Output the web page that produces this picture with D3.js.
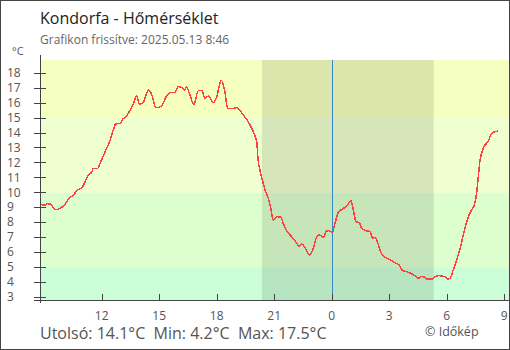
<!DOCTYPE html>
<html><head><meta charset="utf-8">
<script src="https://cdn.jsdelivr.net/npm/d3@7"></script>
<style>body{margin:0;background:#fff}svg{display:block;font-family:"Open Sans",sans-serif}</style>
</head><body><svg id="c" width="510" height="350"></svg>
<script>
// hours since 00:00 of 2025-05-12
const hours = [8.78,9.04,9.16,9.35,9.47,9.61,9.73,9.91,10.08,10.31,10.52,10.73,10.96,11.09,11.27,11.48,11.56,11.77,11.91,12.08,12.26,12.43,12.60,12.74,12.95,13.09,13.27,13.48,13.65,13.82,13.96,14.17,14.31,14.45,14.62,14.83,15.13,15.35,15.56,15.82,15.99,16.22,16.31,16.43,16.57,16.81,17.04,17.22,17.39,17.58,17.82,18.0,18.24,18.42,18.57,18.86,19.04,19.39,19.56,19.74,19.94,20.09,20.15,20.26,20.38,20.52,20.69,20.82,20.95,21.16,21.35,21.47,21.68,21.91,22.12,22.29,22.43,22.6,22.83,23.04,23.22,23.35,23.56,23.74,23.86,24.03,24.17,24.34,24.55,24.69,24.86,25.0,25.12,25.27,25.44,25.56,25.79,26.0,26.14,26.26,26.4,26.55,26.69,26.9,27.13,27.35,27.52,27.7,27.91,28.12,28.34,28.55,28.69,28.87,28.99,29.22,29.39,29.56,29.91,30.08,30.21,30.31,30.43,30.6,30.73,30.86,31.0,31.13,31.3,31.44,31.56,31.65,31.74,31.82,31.94,32.08,32.2,32.29,32.43,32.69];
const temps = [9.2,9.15,9.24,9.2,8.97,8.84,8.87,9.0,9.2,9.62,9.8,10.16,10.29,10.6,11.09,11.36,11.58,11.58,11.94,12.43,12.95,13.46,14.17,14.58,14.6,14.89,15.06,15.5,15.9,16.45,15.9,16.0,16.5,16.85,16.5,15.66,15.78,16.36,16.67,16.67,17.07,16.96,16.85,17.07,16.62,15.89,16.8,16.8,16.3,16.45,16.0,16.4,17.5,16.75,15.62,15.6,15.66,15.17,14.89,14.5,13.95,13.39,12.28,11.45,10.83,10.16,9.6,8.93,8.15,8.37,8.33,7.93,7.37,7.03,6.7,6.41,6.55,6.33,5.81,6.26,7.03,7.15,6.99,7.42,7.44,7.3,7.93,8.64,8.87,9.0,9.22,9.44,8.87,8.04,7.97,7.6,7.44,7.37,6.93,6.99,6.63,6.03,5.74,5.59,5.43,5.25,5.14,4.76,4.7,4.58,4.43,4.25,4.36,4.32,4.2,4.2,4.36,4.43,4.36,4.2,4.32,4.7,5.14,5.81,6.37,7.15,7.82,8.37,8.82,9.15,9.94,11.05,12.16,12.61,13.05,13.28,13.5,13.84,14.02,14.1];
const xTickHours = [12,15,18,21,24,27,30,33];
const xTickLabels = ["12","15","18","21","0","3","6","9"];
const yTicks = [3,4,5,6,7,8,9,10,11,12,13,14,15,16,17,18];
const bandEdges = [2.8,5,10,15,18.85];
const bandColors = ["#ccffd7","#ddffce","#f0ffd0","#f5ffc0"];
const nightStart = 20.36, nightEnd = 29.32, midnight = 24;
const title = "Kondorfa - Hőmérséklet";
const subtitle = "Grafikon frissítve: 2025.05.13 8:46";
const stats = "Utolsó: 14.1°C  Min: 4.2°C  Max: 17.5°C";
const credit = "© Időkép";

const svg = d3.select("#c");
const L = 40, R = 509, T = 60, B = 300;
const x = d3.scaleLinear().domain([8.78, 33.25]).range([L, R]);
const y = d3.scaleLinear().domain([2.8, 18.85]).range([B, T]);

// bands
svg.selectAll("rect.band").data(bandColors).join("rect")
  .attr("x", L).attr("width", R - L)
  .attr("y", (d,i) => y(bandEdges[i+1])).attr("height", (d,i) => y(bandEdges[i]) - y(bandEdges[i+1]))
  .attr("fill", d => d);
// night
svg.append("rect").attr("x", x(nightStart)).attr("width", x(nightEnd) - x(nightStart))
  .attr("y", T).attr("height", B - T).attr("fill", "rgba(0,0,0,0.1)");
// midnight line
svg.append("line").attr("x1", Math.round(x(midnight)) + 0.5).attr("x2", Math.round(x(midnight)) + 0.5)
  .attr("y1", T).attr("y2", B).attr("stroke", "#3388cc").attr("stroke-width", 1);

// line
const pts = hours.map((h,i) => [h, temps[i]]);
svg.append("path").datum(pts)
  .attr("d", d3.line().x(d => x(d[0])).y(d => y(d[1])).curve(d3.curveMonotoneX))
  .attr("fill", "none").attr("stroke", "#ff4040").attr("stroke-width", 1.5)
  .attr("shape-rendering", "crispEdges");

// y axis
const yAxis = svg.append("g");
yAxis.append("line").attr("x1", L + 0.5).attr("x2", L + 0.5).attr("y1", 55).attr("y2", 303)
  .attr("stroke", "#444");
yAxis.selectAll("line.t").data(yTicks).join("line").attr("class", "t")
  .attr("x1", 34).attr("x2", 46)
  .attr("y1", d => Math.round(y(d)) + 0.5).attr("y2", d => Math.round(y(d)) + 0.5)
  .attr("stroke", "#444");
yAxis.selectAll("text").data(yTicks).join("text")
  .attr("x", 7).attr("y", d => y(d)).attr("dy", "0.35em")
  .attr("font-size", 12).attr("fill", "#555").text(d => d);

// x axis
const xAxis = svg.append("g");
xAxis.append("line").attr("x1", 34).attr("x2", R).attr("y1", B + 0.5).attr("y2", B + 0.5)
  .attr("stroke", "#444");
xAxis.selectAll("line.t").data(xTickHours).join("line").attr("class", "t")
  .attr("x1", d => Math.round(x(d)) + 0.5).attr("x2", d => Math.round(x(d)) + 0.5)
  .attr("y1", 294).attr("y2", B)
  .attr("stroke", "#444");
xAxis.selectAll("text").data(xTickHours).join("text")
  .attr("x", d => x(d)).attr("y", 319.5).attr("text-anchor", "middle")
  .attr("font-size", 12).attr("fill", "#555").text((d,i) => xTickLabels[i]);

// texts
svg.append("text").attr("x", 40).attr("y", 24).attr("font-size", 16).attr("fill", "#222").text(title);
svg.append("text").attr("x", 40).attr("y", 44).attr("font-size", 12).attr("fill", "#666").text(subtitle);
svg.append("text").attr("x", 12).attr("y", 55).attr("font-size", 11).attr("fill", "#555").text("°C");
svg.append("text").attr("x", 40).attr("y", 339).attr("font-size", 16).attr("fill", "#555")
  .attr("xml:space", "preserve").style("white-space", "pre").text(stats);
svg.append("text").attr("x", 425).attr("y", 335.5).attr("font-size", 12.5).attr("fill", "#555").text(credit);

// border
svg.append("rect").attr("x", 0.5).attr("y", 0.5).attr("width", 509).attr("height", 349)
  .attr("fill", "none").attr("stroke", "#444");
</script></body></html>
